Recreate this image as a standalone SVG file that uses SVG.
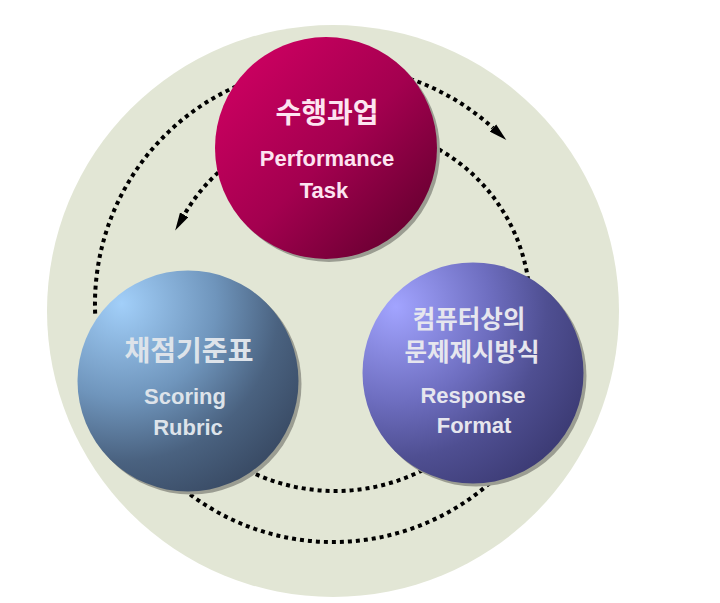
<svg xmlns="http://www.w3.org/2000/svg" width="720" height="603" viewBox="0 0 720 603">
<style>
.dot{fill:none;stroke:#000;stroke-width:4;stroke-dasharray:4 4}
.shadow{fill:#9b9d92}
.ko{font-family:"Noto Sans CJK KR","Noto Sans",sans-serif;font-weight:bold;text-anchor:middle}
.en{font-family:"Liberation Sans",Arial,sans-serif;font-weight:bold;text-anchor:middle;font-size:22px}
</style>
<defs>
<linearGradient id="gPink" x1="0.15" y1="0.15" x2="0.9" y2="0.9">
<stop offset="0" stop-color="#c8005f"/>
<stop offset="0.5" stop-color="#a3004f"/>
<stop offset="1" stop-color="#660030"/>
</linearGradient>
<radialGradient id="gBlue" cx="0.2" cy="0.15" r="0.95" fx="0.2" fy="0.15">
<stop offset="0" stop-color="#a2cff9"/>
<stop offset="0.45" stop-color="#6f95bc"/>
<stop offset="0.75" stop-color="#4a6280"/>
<stop offset="1" stop-color="#3a4c66"/>
</radialGradient>
<radialGradient id="gPurple" cx="0.15" cy="0.2" r="0.95" fx="0.15" fy="0.2">
<stop offset="0" stop-color="#a2a4ff"/>
<stop offset="0.45" stop-color="#6e6ec0"/>
<stop offset="0.72" stop-color="#4f4f92"/>
<stop offset="1" stop-color="#3d3c76"/>
</radialGradient>
<marker id="arr" markerUnits="userSpaceOnUse" viewBox="0 -5 19 10" refX="0" refY="0" markerWidth="19" markerHeight="10" orient="auto">
<path d="M0,-4.8 L18,0 L0,4.8 Z" fill="#000"/>
</marker>
</defs>
<circle id="background" cx="333" cy="311" r="286" fill="#e2e6d5"/>
<g id="connectors">
<path class="dot" d="M394.6,74.1 A238,238 0 0 1 493,128" marker-end="url(#arr)"/>
<path class="dot" d="M243.8,83.3 A238,238 0 0 0 95.3,316.5"/>
<path class="dot" d="M501.3,472.3 A238,238 0 0 1 184.8,490.3"/>
<path class="dot" d="M224.3,167.1 A180,180 0 0 0 184.2,214.8" marker-end="url(#arr)"/>
<path class="dot" d="M431.7,145.6 A180,180 0 0 1 528.7,284.1"/>
<path class="dot" d="M429.5,466.6 A195,195 0 0 1 243.5,468.2"/>
</g>
<g id="node-task">
<circle class="shadow" cx="329" cy="151" r="111"/>
<circle cx="326" cy="148" r="111" fill="url(#gPink)"/>
<text class="ko" x="327" y="123" font-size="28" fill="#fde4f1">수행과업</text>
<text class="en" x="327" y="166" fill="#fde4f1">Performance</text>
<text class="en" x="324" y="198" fill="#fde4f1">Task</text>
</g>
<g id="node-rubric">
<circle class="shadow" cx="191" cy="384" r="110.5"/>
<circle cx="188" cy="381" r="110.5" fill="url(#gBlue)"/>
<text class="ko" x="189" y="361" font-size="28" fill="#dde3ea">채점기준표</text>
<text class="en" x="185" y="404" fill="#dde3ea">Scoring</text>
<text class="en" x="188" y="435" fill="#dde3ea">Rubric</text>
</g>
<g id="node-format">
<circle class="shadow" cx="476" cy="376" r="110.5"/>
<circle cx="473" cy="373" r="110.5" fill="url(#gPurple)"/>
<text class="ko" x="469" y="328" font-size="24.5" fill="#e6e6ee">컴퓨터상의</text>
<text class="ko" x="472" y="361" font-size="24.5" fill="#e6e6ee">문제제시방식</text>
<text class="en" x="473" y="403" fill="#e6e6ee">Response</text>
<text class="en" x="474" y="433" fill="#e6e6ee">Format</text>
</g>
</svg>
